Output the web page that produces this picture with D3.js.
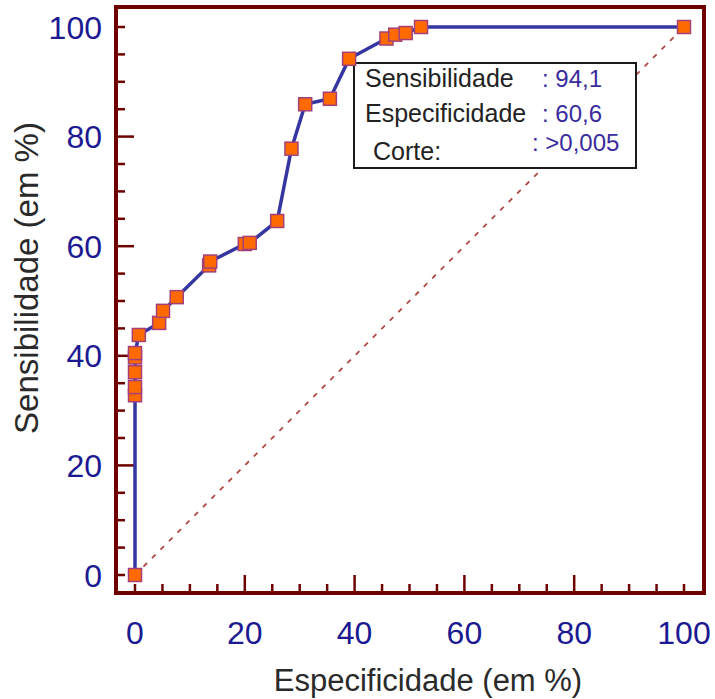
<!DOCTYPE html>
<html>
<head>
<meta charset="utf-8">
<script src="https://cdn.jsdelivr.net/npm/d3@7"></script>
<style>
  body { margin: 0; background: #fff; }
  svg { display: block; font-family: "Liberation Sans", Arial, sans-serif; }
</style>
</head>
<body>
<svg class="main"></svg>
<script>
// ROC curve points: 100 - especificidade (x) and sensibilidade (y)
var especificidade = [0, 0, 0, 0, 0, 0, 0.7, 4.4, 5.1, 7.6, 13.5, 13.7, 20, 20.9, 25.9, 28.5, 31, 35.5, 39, 45.8, 47.4, 49.3, 52.1, 100];
var sensibilidade = [0, 32.8, 34.3, 37, 39.7, 40.5, 43.8, 46, 48.2, 50.7, 56.5, 57.2, 60.4, 60.6, 64.6, 77.8, 85.9, 86.9, 94.2, 97.9, 98.6, 98.9, 100, 100];
var tickValues = [0, 20, 40, 60, 80, 100];
var legendLabels = ['Sensibilidade', 'Especificidade', 'Corte:'];
var legendValues = [': 94,1', ': 60,6', ': >0,005'];

var width = 715,
    height = 699,
    frameColor = '#6e0000',
    tickLabelColor = '#1c1a92',
    lineColor = '#3636a2',
    markerFill = '#ff6a00',
    markerStroke = '#a3407a',
    markerSize = 13,
    frame = { left: 116, top: 7, right: 704, bottom: 593 };

var svg = d3.select('.main')
    .attr('width', width)
    .attr('height', height);

var x = d3.scaleLinear()
    .domain([0, 100])
    .range([135, 684]);

var y = d3.scaleLinear()
    .domain([0, 100])
    .range([575, 27]);

var points = especificidade.map(function(d, i) {
    return { x: d, y: sensibilidade[i] };
});

// ticks every 5 units, pointing inside the frame
var minorTicks = d3.range(0, 101, 5);

function tickLen(v) {
    return (v % 20 === 0 && v !== 0 && v !== 100) ? 18 : 9;
}

svg.append('g')
    .selectAll('line')
    .data(minorTicks)
    .enter().append('line')
    .attr('x1', d => x(d))
    .attr('x2', d => x(d))
    .attr('y1', frame.bottom)
    .attr('y2', d => frame.bottom - tickLen(d))
    .attr('stroke', frameColor)
    .attr('stroke-width', 2.5);

svg.append('g')
    .selectAll('line')
    .data(minorTicks)
    .enter().append('line')
    .attr('y1', d => y(d))
    .attr('y2', d => y(d))
    .attr('x1', frame.left)
    .attr('x2', d => frame.left + tickLen(d))
    .attr('stroke', frameColor)
    .attr('stroke-width', 2.5);

// frame
svg.append('rect')
    .attr('x', frame.left)
    .attr('y', frame.top)
    .attr('width', frame.right - frame.left)
    .attr('height', frame.bottom - frame.top)
    .attr('fill', 'none')
    .attr('stroke', frameColor)
    .attr('stroke-width', 4);

// tick labels
svg.append('g')
    .selectAll('text')
    .data(tickValues)
    .enter().append('text')
    .attr('x', d => x(d))
    .attr('y', 644)
    .attr('text-anchor', 'middle')
    .attr('fill', tickLabelColor)
    .style('font-size', '32px')
    .text(d => d);

svg.append('g')
    .selectAll('text')
    .data(tickValues)
    .enter().append('text')
    .attr('x', 102)
    .attr('y', d => y(d) + 11.5)
    .attr('text-anchor', 'end')
    .attr('fill', tickLabelColor)
    .style('font-size', '32px')
    .text(d => d);

// axis titles
svg.append('text')
    .attr('x', 428)
    .attr('y', 691)
    .attr('text-anchor', 'middle')
    .attr('fill', '#2a2a2a')
    .style('font-size', '31px')
    .text('Especificidade (em %)');

svg.append('text')
    .attr('transform', 'translate(38,278) rotate(-90)')
    .attr('text-anchor', 'middle')
    .attr('fill', '#2a2a2a')
    .style('font-size', '33px')
    .text('Sensibilidade (em %)');

// reference diagonal
svg.append('line')
    .attr('x1', x(0))
    .attr('y1', y(0))
    .attr('x2', x(100))
    .attr('y2', y(100))
    .attr('stroke', '#b04848')
    .attr('stroke-width', 1.8)
    .attr('stroke-dasharray', '5,7');

// legend box
var legend = svg.append('g');

legend.append('rect')
    .attr('x', 354)
    .attr('y', 63)
    .attr('width', 282)
    .attr('height', 105)
    .attr('fill', '#fff')
    .attr('stroke', '#1a1a1a')
    .attr('stroke-width', 2);

var labelPos = [[365, 87], [365, 122], [373, 160]];
var valuePos = [[542, 87], [542, 122], [532, 151]];

legend.selectAll('.lab')
    .data(legendLabels)
    .enter().append('text')
    .attr('class', 'lab')
    .attr('x', (d, i) => labelPos[i][0])
    .attr('y', (d, i) => labelPos[i][1])
    .attr('fill', '#222')
    .style('font-size', '25px')
    .text(d => d);

legend.selectAll('.val')
    .data(legendValues)
    .enter().append('text')
    .attr('class', 'val')
    .attr('x', (d, i) => valuePos[i][0])
    .attr('y', (d, i) => valuePos[i][1])
    .attr('fill', '#3a2c9c')
    .style('font-size', '24px')
    .text(d => d);

// ROC curve
var line = d3.line()
    .x(d => x(d.x))
    .y(d => y(d.y));

svg.append('path')
    .datum(points)
    .attr('d', line)
    .attr('fill', 'none')
    .attr('stroke', lineColor)
    .attr('stroke-width', 3.5);

svg.append('g')
    .selectAll('rect')
    .data(points)
    .enter().append('rect')
    .attr('x', d => x(d.x) - markerSize / 2)
    .attr('y', d => y(d.y) - markerSize / 2)
    .attr('width', markerSize)
    .attr('height', markerSize)
    .attr('fill', markerFill)
    .attr('stroke', markerStroke)
    .attr('stroke-width', 1.5);
</script>
</body>
</html>
